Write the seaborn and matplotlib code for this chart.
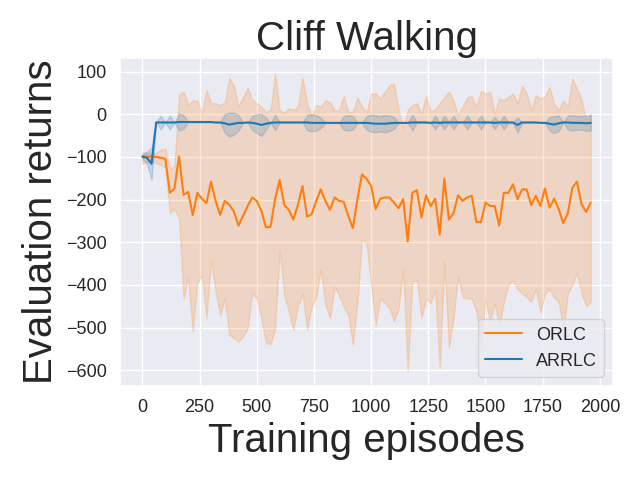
import numpy as np
import matplotlib
matplotlib.use("Agg")
import matplotlib.pyplot as plt
import seaborn as sns

# evaluation every 20 episodes
episodes = list(range(0, 1980, 20))

orlc_mean = [
    -99, -99, -99, -100, -102, -104, -184, -174, -99, -189,
    -182, -236, -184, -198, -208, -158, -203, -236, -203, -212,
    -228, -261, -238, -215, -195, -203, -226, -265, -264, -199,
    -154, -212, -224, -247, -212, -168, -240, -234, -203, -176,
    -203, -224, -195, -203, -205, -238, -267, -199, -141, -151,
    -168, -222, -198, -195, -195, -207, -220, -199, -298, -184,
    -178, -242, -190, -215, -198, -282, -151, -247, -232, -190,
    -203, -195, -191, -252, -253, -207, -215, -215, -261, -184,
    -184, -164, -199, -176, -176, -213, -191, -215, -174, -219,
    -198, -222, -255, -232, -172, -158, -211, -229, -207,
]
orlc_upper = [
    -88, -90, -92, -90, -83, -80, -128, -120, 47, 53,
    22, 33, 32, 2, 58, 26, 26, 22, 27, 86,
    68, 18, 41, 62, 35, 26, 18, 6, 10, 97,
    10, 4, 14, 10, 18, 86, 26, -4, 22, 18,
    33, 29, 9, 10, 43, 6, 6, 40, 18, 5,
    49, 49, 37, 53, 68, 72, 10, -33, 10, 22,
    26, 2, 43, 6, 12, 26, 40, 53, 33, -2,
    18, 40, 43, 18, 55, 49, 53, 2, 37, 33,
    41, 49, 26, 68, 49, 10, 45, 37, 43, 64,
    26, 10, 33, 18, 84, 60, 33, -13, 2,
]
orlc_lower = [
    -116, -112, -108, -115, -118, -125, -232, -222, -244, -432,
    -381, -509, -395, -378, -478, -343, -416, -471, -432, -517,
    -525, -533, -521, -502, -420, -432, -478, -536, -539, -502,
    -319, -424, -463, -505, -451, -420, -505, -451, -430, -364,
    -447, -478, -405, -424, -451, -471, -540, -440, -292, -304,
    -401, -494, -432, -443, -455, -486, -455, -362, -602, -393,
    -389, -478, -432, -443, -412, -595, -347, -548, -478, -381,
    -428, -432, -432, -463, -540, -435, -486, -444, -494, -440,
    -400, -390, -410, -420, -428, -440, -410, -465, -420, -410,
    -430, -440, -505, -420, -400, -372, -420, -450, -440,
]

arrlc_mean = [
    -99, -102, -116, -19, -19, -19, -19, -19, -18, -18,
    -18, -18, -18, -18, -18, -18, -19, -19, -21, -24,
    -22, -20, -20, -19, -20, -22, -25, -22, -20, -19,
    -19, -19, -19, -19, -19, -19, -19, -20, -20, -20,
    -20, -20, -20, -20, -20, -20, -20, -20, -20, -20,
    -21, -22, -22, -22, -21, -20, -20, -20, -20, -19,
    -19, -19, -19, -20, -19, -20, -19, -19, -19, -19,
    -19, -19, -19, -19, -19, -19, -19, -20, -19, -19,
    -19, -19, -25, -19, -19, -19, -19, -20, -20, -22,
    -24, -21, -19, -19, -20, -20, -20, -21, -20,
]
arrlc_spread = [
    5, 14, 38, 0, 16, 0, 16, 0, 20, 16,
    0, 0, 0, 0, 0, 0, 0, 0, 22, 28,
    26, 18, 0, 0, 16, 22, 26, 14, 0, 18,
    0, 0, 0, 0, 0, 0, 18, 20, 18, 12,
    0, 0, 0, 0, 16, 18, 16, 0, 0, 16,
    20, 20, 18, 20, 18, 14, 0, 0, 0, 18,
    0, 0, 0, 0, 16, 0, 16, 0, 16, 0,
    0, 16, 0, 0, 16, 0, 0, 14, 0, 16,
    0, 0, 18, 0, 0, 0, 0, 0, 0, 16,
    20, 18, 0, 16, 18, 16, 16, 18, 18,
]

sns.set_theme(style="darkgrid")
plt.rcParams["font.family"] = ["Liberation Sans", "DejaVu Sans"]

fig, ax = plt.subplots(figsize=(6.4, 4.8), dpi=100)

x = np.array(episodes)
a_mean = np.array(arrlc_mean)
a_spread = np.array(arrlc_spread)

sns.lineplot(x=x, y=orlc_mean, color="tab:orange", label="ORLC", ax=ax)
ax.fill_between(x, orlc_lower, orlc_upper, color="tab:orange", alpha=0.2)

sns.lineplot(x=x, y=arrlc_mean, color="tab:blue", label="ARRLC", ax=ax)
ax.fill_between(x, a_mean - a_spread, a_mean + a_spread, color="tab:blue", alpha=0.2)

ax.set_title("Cliff Walking", fontsize=29)
ax.set_xlabel("Training episodes", fontsize=29)
ax.set_ylabel("Evaluation returns", fontsize=29)
ax.set_xticks([0, 250, 500, 750, 1000, 1250, 1500, 1750, 2000])
ax.set_yticks([100, 0, -100, -200, -300, -400, -500, -600])
ax.tick_params(axis="both", which="major", labelsize=13)
ax.legend(loc="lower right", fontsize=13)

fig.subplots_adjust(left=0.1875, right=0.958, top=0.879, bottom=0.196)
fig.savefig("out.png", dpi=100)
